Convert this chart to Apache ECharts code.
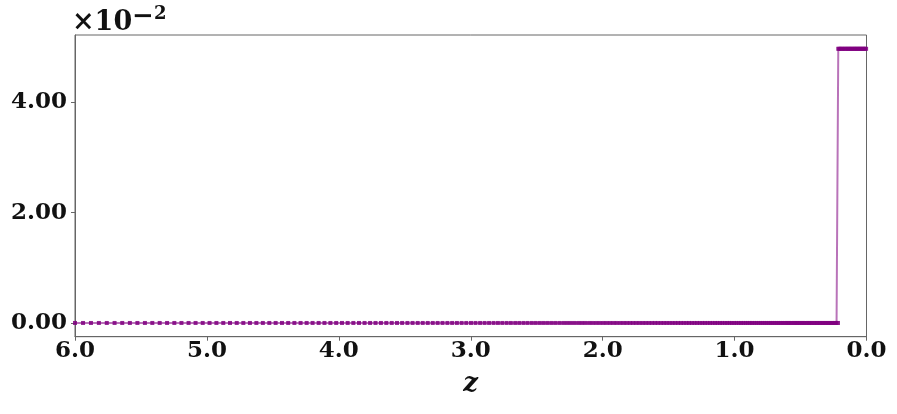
<!DOCTYPE html>
<html>
<head>
<meta charset="utf-8">
<script src="https://cdn.jsdelivr.net/npm/echarts@6/dist/echarts.min.js"></script>
<style>
    html, body { margin: 0; padding: 0; background: #fff; }
    #chart { width: 897px; height: 414px; }
</style>
</head>
<body>
<div id="chart"></div>
<script>
// sample redshifts along the curve
const zLow = [
    6.000, 5.939, 5.879, 5.819, 5.759, 5.700, 5.642, 5.584, 5.527, 5.470,
    5.414, 5.358, 5.302, 5.247, 5.193, 5.139, 5.086, 5.032, 4.980, 4.928,
    4.876, 4.825, 4.774, 4.724, 4.674, 4.625, 4.576, 4.527, 4.479, 4.431,
    4.384, 4.337, 4.290, 4.244, 4.199, 4.153, 4.109, 4.064, 4.020, 3.976,
    3.933, 3.890, 3.847, 3.805, 3.763, 3.722, 3.681, 3.640, 3.599, 3.559,
    3.520, 3.480, 3.441, 3.402, 3.364, 3.326, 3.288, 3.251, 3.214, 3.177,
    3.141, 3.105, 3.069, 3.034, 2.998, 2.964, 2.929, 2.895, 2.861, 2.827,
    2.794, 2.761, 2.728, 2.696, 2.663, 2.632, 2.600, 2.569, 2.537, 2.507,
    2.476, 2.446, 2.416, 2.386, 2.357, 2.327, 2.298, 2.270, 2.241, 2.213,
    2.185, 2.157, 2.130, 2.102, 2.075, 2.049, 2.022, 1.996, 1.970, 1.944,
    1.918, 1.893, 1.867, 1.842, 1.818, 1.793, 1.769, 1.745, 1.721, 1.697,
    1.674, 1.650, 1.627, 1.604, 1.582, 1.559, 1.537, 1.515, 1.493, 1.471,
    1.450, 1.428, 1.407, 1.386, 1.365, 1.345, 1.324, 1.304, 1.284, 1.264,
    1.244, 1.225, 1.205, 1.186, 1.167, 1.148, 1.130, 1.111, 1.093, 1.074,
    1.056, 1.038, 1.021, 1.003, 0.986, 0.968, 0.951, 0.934, 0.917, 0.901,
    0.884, 0.868, 0.851, 0.835, 0.819, 0.803, 0.788, 0.772, 0.757, 0.741,
    0.726, 0.711, 0.696, 0.681, 0.667, 0.652, 0.638, 0.624, 0.609, 0.595,
    0.582, 0.568, 0.554, 0.541, 0.527, 0.514, 0.501, 0.488, 0.475, 0.462,
    0.449, 0.436, 0.424, 0.412, 0.399, 0.387, 0.375, 0.363, 0.351, 0.339,
    0.328, 0.316, 0.305, 0.293, 0.282, 0.271, 0.260, 0.249, 0.238, 0.227,
    0.216
];
const zHigh = [
    0.214, 0.206, 0.195, 0.185, 0.175, 0.164, 0.154, 0.144, 0.134, 0.124,
    0.115, 0.105, 0.095, 0.086, 0.076, 0.067, 0.058, 0.048, 0.039, 0.030,
    0.021, 0.012, 0.003
];
const lowLevel = 0.0;
const highLevel = 0.0497;

const yTicks = [0, 0.02, 0.04];

const font = 'DejaVu Serif';

let chart = echarts.init(document.getElementById('chart'), null, { renderer: 'canvas' });

let seriesData = zLow.map(z => [z, lowLevel]).concat(zHigh.map(z => [z, highLevel]));

let option = {
    animation: false,
    backgroundColor: '#fff',
    grid: {
        left: 75,
        right: 30.5,
        top: 35,
        bottom: 77.3,
        show: true,
        borderColor: '#666',
        borderWidth: 1
    },
    xAxis: {
        type: 'value',
        inverse: true,
        min: 0,
        max: 6,
        interval: 1,
        name: 'z',
        nameLocation: 'middle',
        nameGap: 35,
        nameTextStyle: {
            fontFamily: font,
            fontStyle: 'italic',
            fontWeight: 'bold',
            fontSize: 26,
            color: '#111'
        },
        axisLine: { show: true, onZero: false, lineStyle: { color: '#666', width: 1 } },
        axisTick: { show: true, inside: false, length: 4, lineStyle: { color: '#666' } },
        splitLine: { show: false },
        axisLabel: {
            margin: 3,
            fontFamily: font,
            fontWeight: 'bold',
            fontSize: 23,
            color: '#111',
            formatter: v => v.toFixed(1)
        }
    },
    yAxis: {
        type: 'value',
        min: -0.00249,
        max: 0.0522,
        axisLine: { show: true, onZero: false, lineStyle: { color: '#666', width: 1 } },
        axisTick: { show: true, length: 4, customValues: yTicks, lineStyle: { color: '#666' } },
        splitLine: { show: false },
        axisLabel: {
            margin: 8,
            fontFamily: font,
            fontWeight: 'bold',
            fontSize: 23,
            color: '#111',
            customValues: yTicks,
            formatter: v => (v * 100).toFixed(2)
        }
    },
    graphic: [
        {
            type: 'text',
            x: 72,
            y: 23,
            style: {
                text: '×10',
                font: 'bold 27px "DejaVu Serif"',
                fill: '#111',
                align: 'left',
                verticalAlign: 'middle'
            }
        },
        {
            type: 'text',
            x: 132,
            y: 17,
            style: {
                text: '−',
                font: 'bold 26px "DejaVu Serif"',
                fill: '#111',
                align: 'left',
                verticalAlign: 'middle'
            }
        },
        {
            type: 'text',
            x: 154,
            y: 14,
            style: {
                text: '2',
                font: 'bold 18px "DejaVu Serif"',
                fill: '#111',
                align: 'left',
                verticalAlign: 'middle'
            }
        }
    ],
    series: [
        {
            type: 'line',
            data: seriesData,
            showAllSymbol: true,
            symbol: 'rect',
            symbolSize: 4,
            itemStyle: { color: '#800080', opacity: 0.85 },
            lineStyle: { color: '#800080', width: 2, opacity: 0.55 },
            emphasis: { disabled: true }
        }
    ]
};
chart.setOption(option);
</script>
</body>
</html>
